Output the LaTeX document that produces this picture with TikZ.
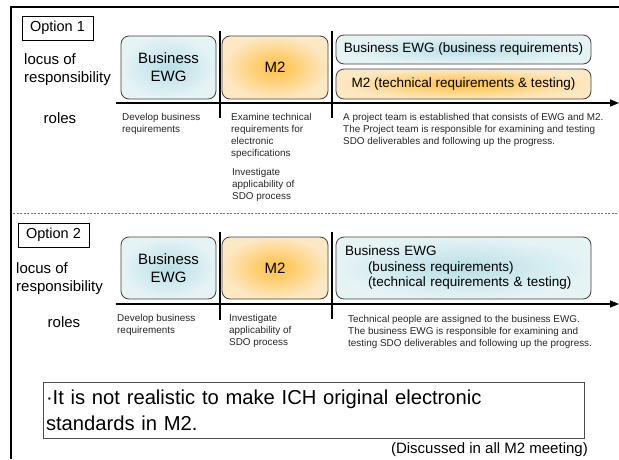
\documentclass[tikz,border=0pt]{standalone}
\usepackage{fontspec}
\setmainfont{Liberation Sans}
\usetikzlibrary{positioning,arrows.meta}

\definecolor{ewgin}{HTML}{B8E0E6}
\definecolor{ewgout}{HTML}{E6F3F5}
\definecolor{mtwoin}{HTML}{FFC040}
\definecolor{mtwoout}{HTML}{FDE8C4}

\begin{document}
\begin{tikzpicture}[
    x=1pt,y=-1pt,
    font=\fontsize{15}{18}\selectfont
  ]
\useasboundingbox (0,0) rectangle (619,459);

\tikzstyle{optbox}=[draw,line width=.8pt,minimum width=71pt,minimum height=24pt,inner sep=0pt,font=\fontsize{14.5}{17}\selectfont];
\tikzstyle{rbox}=[draw=black!75,line width=.8pt,rounded corners=8pt,inner sep=0pt,align=center];
\tikzstyle{ewg}=[rbox,inner color=ewgin,outer color=ewgout];
\tikzstyle{mtwo}=[rbox,inner color=mtwoin,outer color=mtwoout];
\tikzstyle{widetxt}=[font=\fontsize{13.5}{15.5}\selectfont];
\tikzstyle{roletxt}=[anchor=north west,inner sep=0pt,align=left,font=\fontsize{9.9}{12}\selectfont,text=black!85];
\tikzstyle{tline}=[line width=1.5pt];

% frame
\coordinate (ftr) at (619,7);
\coordinate (ftl) at (11,7);
\coordinate (fbl) at (11,459);
\draw[line width=2.2pt] (ftr) -- (ftl) -- (fbl);

% option 1
\node[optbox] (opt1) at (57.5,28) {Option 1};
\node[anchor=north west,inner sep=0pt,align=left] (locus1) at (24,53) {locus of\\responsibility};
\node[anchor=base,inner sep=0pt] (roles1) at (60,123) {roles};

\node[ewg,minimum width=95pt,minimum height=63pt] (ewg1) at (168.5,67.5) {Business\\EWG};
\node[mtwo,minimum width=106pt,minimum height=63pt] (mtwo1) at (275,67.5) {M2};
\node[ewg,widetxt,minimum width=255pt,minimum height=29pt] (team1) at (463.5,49.5) {Business EWG (business requirements)};
\node[mtwo,widetxt,minimum width=255pt,minimum height=30pt] (tech1) at (463.5,84) {M2 (technical requirements \& testing)};

\coordinate (ha1) at (116,103);
\coordinate (hb1) at (619,103);
\draw[tline,-{Triangle[length=9pt,width=7pt]}] (ha1) -- (hb1);
\coordinate (va1) at (220,31);
\coordinate (vb1) at (220,118);
\draw[tline] (va1) -- (vb1);
\coordinate (vc1) at (332,31);
\coordinate (vd1) at (332,118);
\draw[tline] (vc1) -- (vd1);

\node[roletxt] (dev1) at (122,113) {Develop business\\requirements};
\node[roletxt] (exam1) at (231,113) {Examine technical\\requirements for\\electronic\\specifications};
\node[roletxt] (inv1) at (232,168) {Investigate\\applicability of\\SDO process};
\node[roletxt] (proj1) at (343,113) {A project team is established that consists of EWG and M2.\\The Project team is responsible for examining and testing\\SDO deliverables and following up the progress.};

% separator
\coordinate (sl) at (13,213);
\coordinate (sr) at (619,213);
\draw[black!55,line width=.9pt,dash pattern=on 2pt off 1.5pt] (sl) -- (sr);

% option 2
\node[optbox] (opt2) at (53.5,235) {Option 2};
\node[anchor=north west,inner sep=0pt,align=left] (locus2) at (16,262) {locus of\\responsibility};
\node[anchor=base,inner sep=0pt] (roles2) at (64,327) {roles};

\node[ewg,minimum width=95pt,minimum height=62pt] (ewg2) at (168.5,268) {Business\\EWG};
\node[mtwo,minimum width=106pt,minimum height=62pt] (mtwo2) at (275,268) {M2};
\node[ewg,widetxt,minimum width=255pt,minimum height=62pt,text width=237pt,align=left] (team2) at (463.5,268) {Business EWG\\\hspace*{23pt}(business requirements)\\\hspace*{23pt}(technical requirements \& testing)};

\coordinate (ha2) at (116,304);
\coordinate (hb2) at (619,304);
\draw[tline,-{Triangle[length=9pt,width=7pt]}] (ha2) -- (hb2);
\coordinate (va2) at (220,232);
\coordinate (vb2) at (220,320);
\draw[tline] (va2) -- (vb2);
\coordinate (vc2) at (332,232);
\coordinate (vd2) at (332,319);
\draw[tline] (vc2) -- (vd2);

\node[roletxt] (dev2) at (117,314) {Develop business\\requirements};
\node[roletxt] (inv2) at (229,314) {Investigate\\applicability of\\SDO process};
\node[roletxt] (proj2) at (348,315) {Technical people are assigned to the business EWG.\\The business EWG is responsible for examining and\\testing SDO deliverables and following up the progress.};

% note
\node[draw=black!70,line width=.8pt,minimum width=541pt,minimum height=56pt,text width=535pt,align=left,inner sep=0pt,font=\fontsize{20.2}{26}\selectfont] (note) at (313.5,410) {·It is not realistic to make ICH original electronic\\standards in M2.};
\node[anchor=base east,inner sep=0pt] (disc) at (588,453) {(Discussed in all M2 meeting)};

\end{tikzpicture}
\end{document}
